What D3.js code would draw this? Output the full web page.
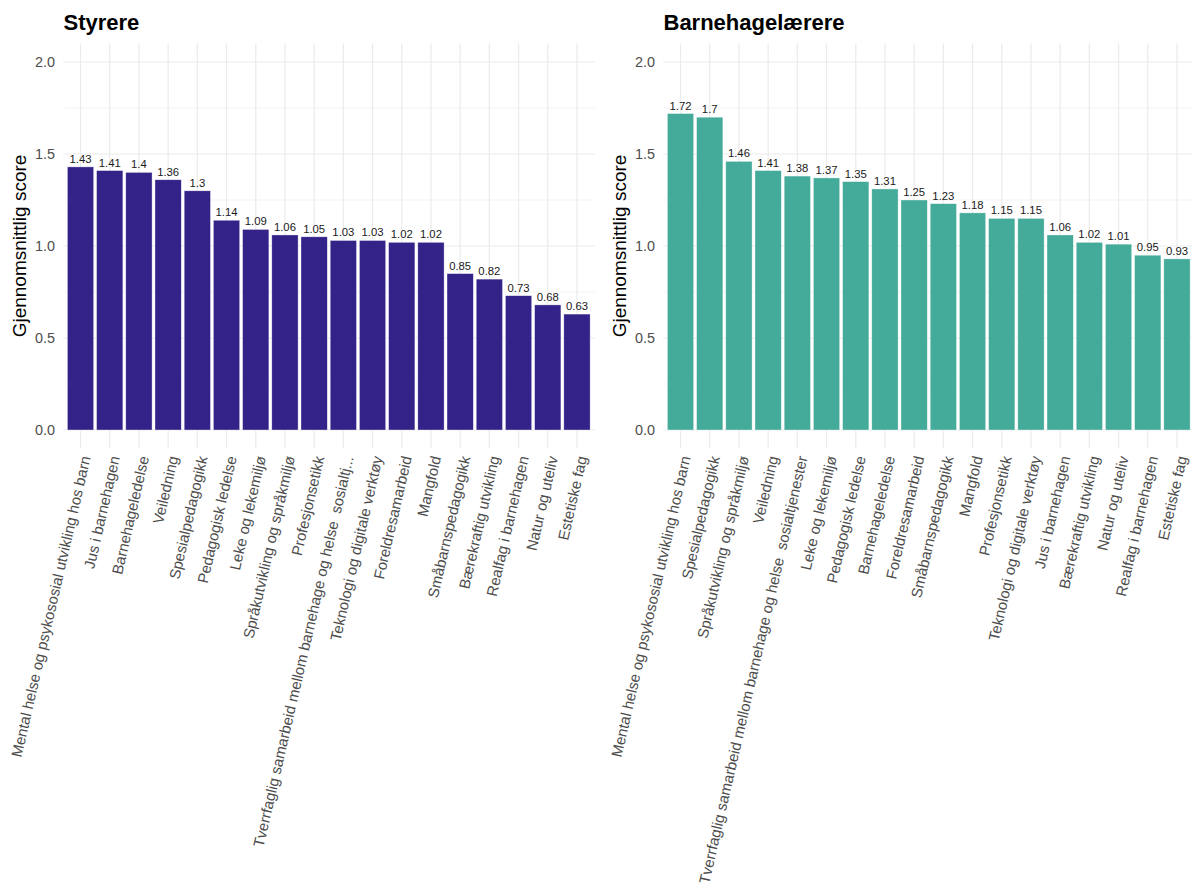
<!DOCTYPE html>
<html>
<head>
<meta charset="utf-8">
<script src="https://cdn.jsdelivr.net/npm/d3@7"></script>
<style>
  body { margin: 0; background: #fff; }
  svg text { font-family: "Liberation Sans", Arial, Helvetica, sans-serif; }
</style>
</head>
<body>
<script>
// Styrere (left panel)
const styrereCategories = [
  'Mental helse og psykososial utvikling hos barn', 'Jus i barnehagen', 'Barnehageledelse',
  'Veiledning', 'Spesialpedagogikk', 'Pedagogisk ledelse', 'Leke og lekemiljø',
  'Språkutvikling og språkmiljø', 'Profesjonsetikk',
  'Tverrfaglig samarbeid mellom barnehage og helse  sosialtj...',
  'Teknologi og digitale verktøy', 'Foreldresamarbeid', 'Mangfold', 'Småbarnspedagogikk',
  'Bærekraftig utvikling', 'Realfag i barnehagen', 'Natur og uteliv', 'Estetiske fag'
];
const styrereValues = [1.43, 1.41, 1.4, 1.36, 1.3, 1.14, 1.09, 1.06, 1.05, 1.03, 1.03, 1.02, 1.02, 0.85, 0.82, 0.73, 0.68, 0.63];

// Barnehagelærere (right panel)
const laererCategories = [
  'Mental helse og psykososial utvikling hos barn', 'Spesialpedagogikk',
  'Språkutvikling og språkmiljø', 'Veiledning',
  'Tverrfaglig samarbeid mellom barnehage og helse  sosialtjenester',
  'Leke og lekemiljø', 'Pedagogisk ledelse', 'Barnehageledelse', 'Foreldresamarbeid',
  'Småbarnspedagogikk', 'Mangfold', 'Profesjonsetikk', 'Teknologi og digitale verktøy',
  'Jus i barnehagen', 'Bærekraftig utvikling', 'Natur og uteliv', 'Realfag i barnehagen', 'Estetiske fag'
];
const laererValues = [1.72, 1.7, 1.46, 1.41, 1.38, 1.37, 1.35, 1.31, 1.25, 1.23, 1.18, 1.15, 1.15, 1.06, 1.02, 1.01, 0.95, 0.93];

const yTicks = [0, 0.5, 1.0, 1.5, 2.0];
const yMinorTicks = [0.25, 0.75, 1.25, 1.75];

const width = 1192;
const height = 888;

const svg = d3.select('body').append('svg')
  .attr('width', width)
  .attr('height', height);

function panel(offsetX, title, categories, values, color) {
  const g = svg.append('g').attr('transform', `translate(${offsetX},0)`);
  const left = 63, right = 594.5, top = 43.6, bottom = 448.4;

  const x = d3.scaleBand()
    .domain(categories)
    .range([left, right])
    .paddingInner(0.1)
    .paddingOuter(0.15);

  const y = d3.scaleLinear()
    .domain([-0.1, 2.1])
    .range([bottom, top]);

  // grid
  g.append('g').selectAll('line')
    .data(yMinorTicks)
    .join('line')
    .attr('x1', left).attr('x2', right)
    .attr('y1', (d) => y(d)).attr('y2', (d) => y(d))
    .attr('stroke', '#ebebeb').attr('stroke-width', 0.6);

  g.append('g').selectAll('line')
    .data(yTicks)
    .join('line')
    .attr('x1', left).attr('x2', right)
    .attr('y1', (d) => y(d)).attr('y2', (d) => y(d))
    .attr('stroke', '#ebebeb').attr('stroke-width', 1.2);

  g.append('g').selectAll('line')
    .data(categories)
    .join('line')
    .attr('x1', (d) => x(d) + x.bandwidth() / 2).attr('x2', (d) => x(d) + x.bandwidth() / 2)
    .attr('y1', top).attr('y2', bottom)
    .attr('stroke', '#ebebeb').attr('stroke-width', 1.2);

  // bars
  g.append('g').selectAll('rect')
    .data(values)
    .join('rect')
    .attr('x', (d, i) => x(categories[i]))
    .attr('width', x.bandwidth())
    .attr('y', (d) => y(d))
    .attr('height', (d) => y(0) - y(d))
    .attr('fill', color)
    .attr('stroke', '#ffffff')
    .attr('stroke-opacity', 0.6)
    .attr('stroke-width', 0.6);

  // value labels
  g.append('g').selectAll('text')
    .data(values)
    .join('text')
    .attr('x', (d, i) => x(categories[i]) + x.bandwidth() / 2)
    .attr('y', (d) => y(d) - 4)
    .attr('text-anchor', 'middle')
    .attr('font-size', '11.3px')
    .attr('fill', '#1a1a1a')
    .text((d) => String(d));

  // y axis tick labels
  g.append('g').selectAll('text')
    .data(yTicks)
    .join('text')
    .attr('x', left - 8)
    .attr('y', (d) => y(d))
    .attr('dy', '0.36em')
    .attr('text-anchor', 'end')
    .attr('font-size', '14.4px')
    .attr('fill', '#4d4d4d')
    .text((d) => d3.format('.1f')(d));

  // x axis tick labels
  g.append('g').selectAll('text')
    .data(categories)
    .join('text')
    .attr('transform', (d) => `translate(${x(d) + x.bandwidth() / 2},455) rotate(-77)`)
    .attr('dy', '0.7em')
    .attr('text-anchor', 'end')
    .attr('font-size', '15px')
    .attr('fill', '#4d4d4d')
    .style('white-space', 'pre')
    .text((d) => d);

  // axis title
  g.append('text')
    .attr('transform', `translate(26,${(top + bottom) / 2}) rotate(-90)`)
    .attr('text-anchor', 'middle')
    .attr('font-size', '19px')
    .attr('fill', '#000')
    .text('Gjennomsnittlig score');

  // panel title
  g.append('text')
    .attr('x', 63.5)
    .attr('y', 30)
    .attr('font-size', '22px')
    .attr('font-weight', 'bold')
    .attr('fill', '#000')
    .text(title);
}

panel(0, 'Styrere', styrereCategories, styrereValues, '#332288');
panel(600, 'Barnehagelærere', laererCategories, laererValues, '#44AA99');
</script>
</body>
</html>
